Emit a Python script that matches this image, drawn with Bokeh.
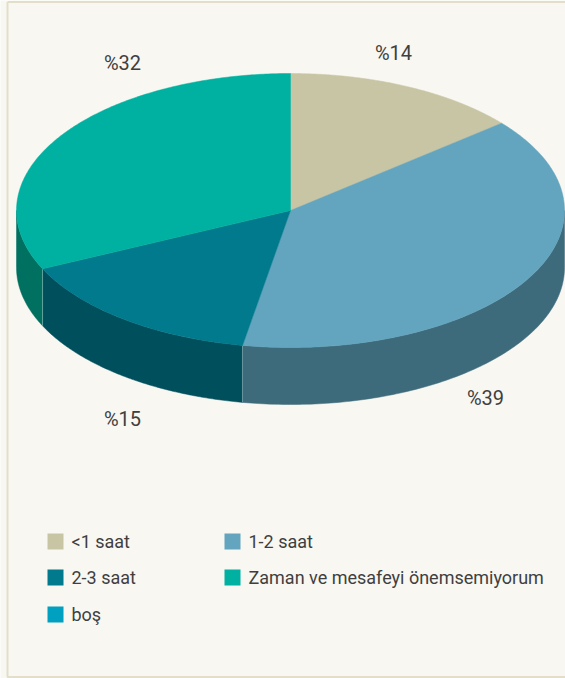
import numpy as np
from bokeh.plotting import figure
from bokeh.models import Range1d, ColumnDataSource
from bokeh.core.properties import value
from bokeh.embed import file_html
from bokeh.resources import INLINE

# ---- data ----
categories = ["<1 saat", "1-2 saat", "2-3 saat", "Zaman ve mesafeyi önemsemiyorum", "boş"]
values = [14.0, 38.8, 15.2, 32.0, 0.0]
value_labels = ["%14", "%39", "%15", "%32", ""]

# ---- styles ----
top_colors = ["#c8c5a5", "#63a4be", "#007a8c", "#00b0a0", "#00a0c0"]
side_colors = ["#8f8c72", "#3e6b7b", "#004f5c", "#007060", "#006f88"]
BG = "#f8f7f2"
TXT = "#3f3f3f"
FONT = "Roboto"

# geometry of the 3D pie (screen pixel space, y downwards)
cx, cy, rx, ry, depth = 290, 210, 274, 137, 57
label_pos = [(393, 52), (485, 397), (122, 418), (122, 62), None]
legend_pos = [(55, 541), (232, 541), (55, 577), (232, 577), (55, 614)]

W, H = 565, 678
p = figure(width=W, height=H, output_backend="svg", toolbar_location=None,
           x_range=Range1d(0, W), y_range=Range1d(H, 0),
           min_border=0, background_fill_color=BG, border_fill_color=BG)
p.axis.visible = False
p.grid.visible = False
p.outline_line_color = None

# frame of the panel
p.line(x=[7, 7, W + 5, W + 5, 7], y=[1.5, 676.5, 676.5, 1.5, 1.5],
       line_color="#e2dec9", line_width=2)


def pt(t, dy=0.0):
    return cx + rx * np.sin(t), cy - ry * np.cos(t) + dy


total = float(sum(values))
fracs = np.cumsum([0] + values) / total
starts = fracs[:-1] * 2 * np.pi
ends = fracs[1:] * 2 * np.pi

# side walls (front half only: t in [pi/2, 3pi/2])
sx, sy, sc = [], [], []
for a, b, c, v in zip(starts, ends, side_colors, values):
    if v == 0:
        continue
    lo, hi = max(a, np.pi / 2), min(b, 3 * np.pi / 2)
    if hi <= lo:
        continue
    t = np.linspace(lo, hi, 120)
    xs, ys = pt(t)
    xb, yb = pt(t[::-1], depth)
    sx.append(list(xs) + list(xb))
    sy.append(list(ys) + list(yb))
    sc.append(c)
p.patches(xs="xs", ys="ys", fill_color="c", line_color="c", line_width=0.5,
          source=ColumnDataSource(dict(xs=sx, ys=sy, c=sc)))

# light edges between side walls
for a, v in zip(starts[1:], values[1:]):
    if np.pi / 2 < a < 3 * np.pi / 2:
        x0, y0 = pt(a)
        x1, y1 = pt(a, depth)
        p.line([x0, x1], [y0, y1], line_color="#ffffff", line_alpha=0.35, line_width=1)

# top faces
tx, ty, tc = [], [], []
for a, b, c, v in zip(starts, ends, top_colors, values):
    if v == 0:
        continue
    t = np.linspace(a, b, 200)
    xs, ys = pt(t)
    tx.append([cx] + list(xs))
    ty.append([cy] + list(ys))
    tc.append(c)
p.patches(xs="xs", ys="ys", fill_color="c", line_color="c", line_width=0.5,
          source=ColumnDataSource(dict(xs=tx, ys=ty, c=tc)))

# value labels
lx = [q[0] for q in label_pos if q]
ly = [q[1] for q in label_pos if q]
lt = [s for s, q in zip(value_labels, label_pos) if q]
p.text(x=lx, y=ly, text=lt, text_font=value(FONT), text_font_size="20px",
       text_color=TXT, text_align="center", text_baseline="middle")

# legend
gx = [q[0] for q in legend_pos]
gy = [q[1] for q in legend_pos]
p.rect(x=gx, y=gy, width=16, height=16, fill_color=top_colors, line_color=None)
p.text(x=[g + 16 for g in gx], y=gy, text=categories, text_font=value(FONT),
       text_font_size="18px", text_color=TXT, text_align="left", text_baseline="middle")

open("out.html", "w").write(file_html(p, INLINE))
